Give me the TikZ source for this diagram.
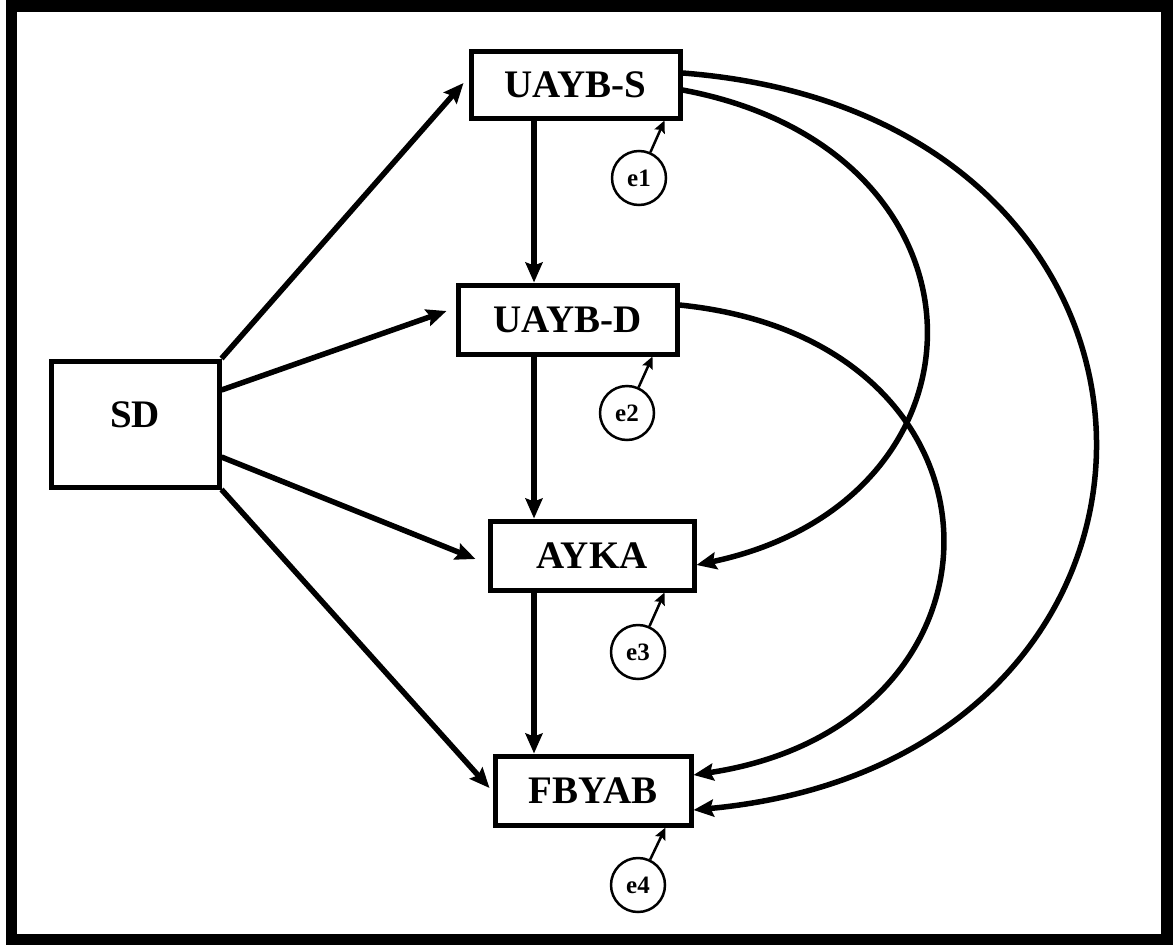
\documentclass[tikz,border=0pt]{standalone}
\usepackage{fontspec}
\setmainfont{Liberation Serif}
\usetikzlibrary{arrows.meta}
\tikzset{
  varbox/.style={draw, line width=5pt, inner sep=0pt, font=\fontsize{39}{39}\selectfont\bfseries},
  errnode/.style={draw, circle, line width=2.5pt, minimum size=54pt, inner sep=0pt, font=\fontsize{25}{25}\selectfont\bfseries},
  bigarrow/.style={line width=5.5pt, -{Stealth[length=20pt,width=17pt,inset=3pt]}},
  smallarrow/.style={line width=2.5pt, -{Stealth[length=12pt,width=11pt,inset=2pt]}}
}
\begin{document}
\begin{tikzpicture}[x=1pt,y=-1pt]
\useasboundingbox (0,0) rectangle (1173,945);
\draw[line width=11.5pt] (11.5,6) rectangle (1167,940);

\node[varbox, minimum width=209pt, minimum height=67pt] (UAYBS) at (575.5,84.5) {UAYB-S};
\node[varbox, minimum width=219pt, minimum height=69pt] (UAYBD) at (567.5,319.5) {UAYB-D};
\node[varbox, minimum width=168pt, minimum height=126pt] (SD) at (135,424) {\raisebox{18pt}{SD}};
\node[varbox, minimum width=204pt, minimum height=69pt] (AYKA) at (592,555.5) {AYKA};
\node[varbox, minimum width=196pt, minimum height=69pt] (FBYAB) at (593,790.5) {FBYAB};

\node[errnode] (e1) at (639,178) {e1};
\node[errnode] (e2) at (627,413) {e2};
\node[errnode] (e3) at (638,652) {e3};
\node[errnode] (e4) at (638,885) {e4};

\coordinate (X) at (534,0);

% SD paths
\draw[bigarrow] (SD.north east) -- ([xshift=-5pt,yshift=1.5pt]UAYBS.west);
\draw[bigarrow] ([yshift=34pt]SD.east) -- ([xshift=-9pt,yshift=8.5pt]UAYBD.west);
\draw[bigarrow] ([yshift=-33pt]SD.east) -- ([xshift=-12pt,yshift=-3.5pt]AYKA.west);
\draw[bigarrow] (SD.south east) -- ([xshift=-3pt,yshift=2.5pt]FBYAB.west);

% vertical chain
\draw[bigarrow] (UAYBS.south -| X) -- (UAYBD.north -| X);
\draw[bigarrow] (UAYBD.south -| X) -- (AYKA.north -| X);
\draw[bigarrow] (AYKA.south -| X) -- (FBYAB.north -| X);

% curved paths
\draw[bigarrow] ([yshift=11.5pt]UAYBS.east) .. controls (1230,115) and (1230,760) .. ([yshift=-19.5pt]FBYAB.east);
\draw[bigarrow] ([yshift=-5.5pt]UAYBS.east) .. controls (1004,150) and (1004,500) .. ([yshift=-9.5pt]AYKA.east);
\draw[bigarrow] ([yshift=14.5pt]UAYBD.east) .. controls (1027,340) and (1027,725) .. ([yshift=15.5pt]FBYAB.east);

% error terms
\draw[smallarrow] (e1) -- ([xshift=-18pt]UAYBS.south east);
\draw[smallarrow] (e2) -- ([xshift=-27pt]UAYBD.south east);
\draw[smallarrow] (e3) -- ([xshift=-32pt]AYKA.south east);
\draw[smallarrow] (e4) -- ([xshift=-28pt]FBYAB.south east);
\end{tikzpicture}
\end{document}
